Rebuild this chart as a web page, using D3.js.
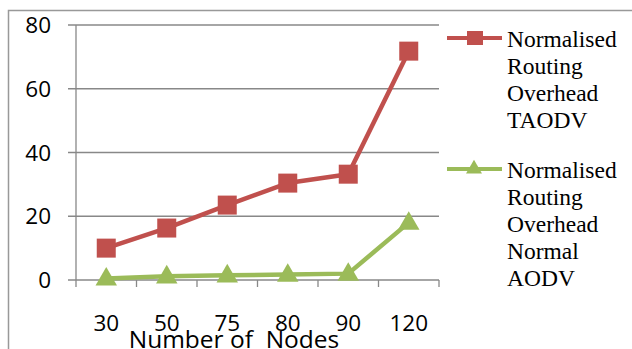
<!DOCTYPE html>
<html><head><meta charset="utf-8">
<script src="https://cdn.jsdelivr.net/npm/d3@7"></script>
<style>body{margin:0;background:#fff}svg{display:block}</style>
</head><body><svg id="c" width="632" height="349"></svg>
<script>
const categories = ["30","50","75","80","90","120"];
const taodv = [10.0, 16.3, 23.5, 30.4, 33.2, 71.8];
const aodv = [0.5, 1.2, 1.5, 1.7, 2.0, 18.0];
const yTicks = [0, 20, 40, 60, 80];
const seriesNames = [["Normalised","Routing","Overhead","TAODV"],["Normalised","Routing","Overhead","Normal","AODV"]];
const colors = ["#C0504D", "#9BBB59"];

const svg = d3.select("#c");
// frame
svg.append("path").attr("d","M8.5,349 V10.5 H632").attr("fill","none").attr("stroke","#999").attr("stroke-width",1.5);

const x = d3.scaleBand().domain(categories).range([76, 439]);
const y = d3.scaleLinear().domain([0, 80]).range([280, 25]);

// gridlines
svg.append("g").selectAll("line").data(yTicks).join("line")
  .attr("x1", 68).attr("x2", 439).attr("y1", d => y(d)).attr("y2", d => y(d))
  .attr("stroke", "#888").attr("stroke-width", 1.3);
// y axis line
svg.append("line").attr("x1",76).attr("x2",76).attr("y1",y(80)).attr("y2",287).attr("stroke","#888").attr("stroke-width",1.3);
// x ticks
const bounds = categories.map(c => x(c)).concat([x.range()[1]]);
svg.append("g").selectAll("line").data(bounds.slice(1)).join("line")
  .attr("x1", d => d).attr("x2", d => d).attr("y1", 280).attr("y2", 287)
  .attr("stroke", "#888").attr("stroke-width", 1.3);

const sans = "'Open Sans', sans-serif";
// y labels
svg.append("g").selectAll("text").data(yTicks).join("text")
  .attr("x", 51).attr("y", d => y(d) + 8).attr("text-anchor","end")
  .attr("font-family",sans).attr("font-size",22.5).attr("fill","#000").text(d => d);
// x labels
svg.append("g").selectAll("text").data(categories).join("text")
  .attr("x", d => x(d) + x.bandwidth()/2).attr("y", 331).attr("text-anchor","middle")
  .attr("font-family",sans).attr("font-size",22.5).attr("fill","#000").text(d => d);
// x title
svg.append("text").attr("x", 234).attr("y", 348).attr("text-anchor","middle")
  .attr("font-family",sans).attr("font-size",24.5).attr("fill","#000")
  .style("white-space","pre").text("Number of  Nodes");

const line = d3.line().x((d,i) => x(categories[i]) + x.bandwidth()/2).y(d => y(d));
const tri = d3.symbol().type(d3.symbolTriangle).size(200);

[taodv, aodv].forEach((vals, si) => {
  svg.append("path").datum(vals).attr("d", line).attr("fill","none")
    .attr("stroke", colors[si]).attr("stroke-width", 4.5).attr("stroke-linejoin","round");
  const g = svg.append("g");
  vals.forEach((v, i) => {
    const cx = x(categories[i]) + x.bandwidth()/2, cy = y(v);
    if (si === 0) g.append("rect").attr("x", cx-9.5).attr("y", cy-9.5).attr("width",19).attr("height",19).attr("fill", colors[0]);
    else g.append("path").attr("d", tri).attr("transform", `translate(${cx},${cy+1})`).attr("fill", colors[1]);
  });
});

// legend
const legY = [38, 169];
const baseY = [47, 178];
seriesNames.forEach((lines, si) => {
  const ly = legY[si];
  svg.append("line").attr("x1",447).attr("x2",502).attr("y1",ly).attr("y2",ly).attr("stroke",colors[si]).attr("stroke-width",4);
  if (si === 0) svg.append("rect").attr("x",467).attr("y",ly-7).attr("width",16).attr("height",14).attr("fill",colors[0]);
  else svg.append("path").attr("d", d3.symbol().type(d3.symbolTriangle).size(110)).attr("transform",`translate(474,${ly})`).attr("fill",colors[1]);
  const t = svg.append("text").attr("font-family","'Liberation Serif', 'Times New Roman', serif").attr("font-size",23.5).attr("fill","#000");
  lines.forEach((s, k) => {
    t.append("tspan").attr("x",507).attr("y", baseY[si] + k*27).text(s);
  });
});
</script></body></html>
